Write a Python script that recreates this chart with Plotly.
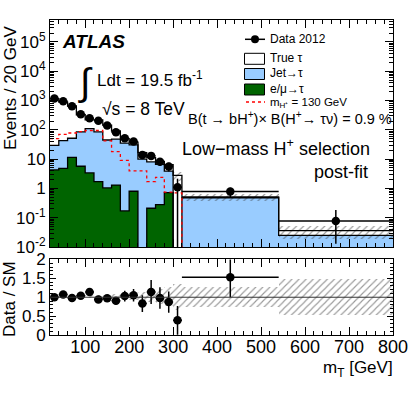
import plotly.graph_objects as go

# binning (GeV)
bin_edges = [20, 40, 60, 80, 100, 120, 140, 160, 180, 200, 220, 240, 260, 280, 300, 320, 540, 800]

# events / 20 GeV
data = [1170, 950, 640, 340, 250, 205, 140, 83, 52, 40, 13.8, 12.9, 8.2, 5.6, 1.1, 0.78, 0.077]
data_err_up = [34, 31, 25, 18, 16, 14, 12, 9, 7.2, 6.3, 3.7, 3.6, 2.4, 1.8, 1.05, 0.27, 0.105]
data_err_dn = [34, 31, 25, 18, 16, 14, 12, 9, 7.2, 6.3, 3.7, 3.6, 2.4, 1.8, 1.09, 0.27, 0.064]
true_tau = [1140, 845, 601, 242, 109, 133, 99, 43, 15.3, 7.2, 6.6, 3.3, 1.7, 2.5, 2.8, 0.03, 0.011]
jet_tau = [25, 38, 40, 79, 107, 83, 44, 47, 35, 30, 10, 7.8, 6.4, 3.2, 0, 0.48, 0.025]
lep_tau = [4.3, 4.8, 11.5, 5.7, 3.4, 1.7, 1.05, 1.3, 0.17, 0.8, 0, 0.21, 0.28, 0.72, 0, 0, 0]
signal = [50, 70, 78, 87, 95, 95, 42, 18, 9, 4.0, 4.0, 1.7, 2.4, 0.75, 0.7, 0, 0]
syst_rel = [0.03, 0.03, 0.03, 0.035, 0.04, 0.05, 0.05, 0.06, 0.07, 0.09, 0.12, 0.15, 0.2, 0.25, 0.35, 0.26, 0.48]

BLUE = "#99ccff"
GREEN = "#006400"
FONT = "Liberation Sans"

centers = [(a + b) / 2 for a, b in zip(bin_edges[:-1], bin_edges[1:])]
widths = [b - a for a, b in zip(bin_edges[:-1], bin_edges[1:])]
green = lep_tau
blue = [l + j for l, j in zip(lep_tau, jet_tau)]
total = [b + t for b, t in zip(blue, true_tau)]


def nz(v):
    return [x if x > 0 else None for x in v]


def step(v):
    # floor zeros below the axis so the outline drops to the bottom
    v = [x if x > 0 else 1e-4 for x in v]
    return v + [v[-1]]


hatch = dict(color="rgba(0,0,0,0)", line_width=0,
             pattern=dict(shape="/", fgcolor="#333", bgcolor="rgba(0,0,0,0)", size=5, solidity=0.22))

fig = go.Figure()

# stack fills
fig.add_trace(go.Bar(x=centers, y=nz(blue), width=widths, marker=dict(color=BLUE, line_width=0),
                     xaxis="x", yaxis="y", showlegend=False))
fig.add_trace(go.Bar(x=centers, y=nz(green), width=widths, marker=dict(color=GREEN, line_width=0),
                     xaxis="x", yaxis="y", showlegend=False))

# outlines
for vals in (total, blue, green):
    fig.add_trace(go.Scatter(x=bin_edges, y=step(vals), mode="lines", line_shape="hv",
                             line=dict(color="black", width=1.3), xaxis="x", yaxis="y",
                             showlegend=False, hoverinfo="skip"))

# uncertainty band (main)
fig.add_trace(go.Bar(x=centers, y=[t * 2 * r for t, r in zip(total, syst_rel)],
                     base=[t * (1 - r) for t, r in zip(total, syst_rel)], width=widths,
                     marker=hatch, xaxis="x", yaxis="y", showlegend=False))

# signal
fig.add_trace(go.Scatter(x=bin_edges, y=step(signal), mode="lines", line_shape="hv",
                         line=dict(color="#ff0000", width=1.3, dash="dot"),
                         xaxis="x", yaxis="y", showlegend=False))

# data
fig.add_trace(go.Scatter(x=centers, y=data, mode="markers",
                         marker=dict(color="black", size=8.5),
                         error_y=dict(type="data", symmetric=False, array=data_err_up,
                                      arrayminus=data_err_dn, color="black", thickness=1.5, width=0),
                         error_x=dict(type="data", array=[w / 2 for w in widths], color="black",
                                      thickness=1.5, width=0),
                         xaxis="x", yaxis="y", showlegend=False))

# ratio panel
ratio = [d / t for d, t in zip(data, total)]
keep = [i for i, r in enumerate(ratio) if r <= 2]
fig.add_trace(go.Bar(x=centers, y=[2 * r for r in syst_rel], base=[1 - r for r in syst_rel], width=widths,
                     marker=hatch, xaxis="x2", yaxis="y2", showlegend=False))
fig.add_trace(go.Scatter(x=[centers[i] for i in keep], y=[ratio[i] for i in keep], mode="markers",
                         marker=dict(color="black", size=8.5),
                         error_y=dict(type="data", symmetric=False,
                                      array=[data_err_up[i] / total[i] for i in keep],
                                      arrayminus=[data_err_dn[i] / total[i] for i in keep],
                                      color="black", thickness=1.5, width=0),
                         error_x=dict(type="data", array=[widths[i] / 2 for i in keep], color="black",
                                      thickness=1.5, width=0),
                         xaxis="x2", yaxis="y2", showlegend=False))

tickfont = dict(family=FONT, size=17, color="black")
axis_common = dict(showline=True, linecolor="black", linewidth=1, mirror="allticks", ticks="inside",
                   tickcolor="black", showgrid=False, zeroline=False, automargin=False)

fig.update_layout(
    width=415, height=399,
    margin=dict(l=50, r=22, t=20, b=64),
    paper_bgcolor="white", plot_bgcolor="white",
    barmode="overlay", bargap=0,
    font=dict(family=FONT, color="black"),
    xaxis=dict(axis_common, domain=[0, 1], range=[20, 800], anchor="y", showticklabels=False,
               tick0=0, dtick=100, ticklen=8,
               minor=dict(ticks="inside", ticklen=4, dtick=20, tick0=0, tickcolor="black")),
    yaxis=dict(axis_common, domain=[0.2794, 1], type="log", range=[-2, 5.75], anchor="x",
               tickvals=[1e-2, 1e-1, 1, 10, 100, 1e3, 1e4, 1e5],
               ticktext=["10<sup>-2</sup>", "10<sup>-1</sup>", "1", "10", "10<sup>2</sup>",
                         "10<sup>3</sup>", "10<sup>4</sup>", "10<sup>5</sup>"],
               ticklen=8, tickfont=tickfont,
               minor=dict(ticks="inside", ticklen=4, dtick="D1", tickcolor="black")),
    xaxis2=dict(axis_common, domain=[0, 1], range=[20, 800], anchor="y2", ticklabeloverflow="allow",
                ticklabelstandoff=-5,
                tick0=0, dtick=100, ticklen=8, tickfont=dict(family=FONT, size=18, color="black"),
                minor=dict(ticks="inside", ticklen=4, dtick=20, tick0=0, tickcolor="black")),
    yaxis2=dict(axis_common, domain=[0, 0.2397], range=[0, 2], anchor="x2",
                tickvals=[0, 0.5, 1, 1.5, 2], ticktext=["0", "0.5", "1", "1.5", "2"],
                ticklen=6, tickfont=tickfont,
                minor=dict(ticks="inside", ticklen=3, dtick=0.1, tickcolor="black")),
)

fig.add_shape(type="line", xref="x2", yref="y2", x0=20, x1=800, y0=1, y1=1,
              line=dict(color="#333", width=1))


def px(x):
    return (x - 50) / 343


def py(y):
    return (335 - y) / 315


def text(s, x, y, size, xanchor="left", angle=0):
    fig.add_annotation(text=s, xref="paper", yref="paper", x=px(x), y=py(y), xanchor=xanchor,
                       yanchor="middle", showarrow=False, textangle=angle,
                       font=dict(family=FONT, size=size, color="black"))


text("Events / 20 GeV", 10, 88, 17, xanchor="center", angle=-90)
text("Data / SM", 9, 299, 17, xanchor="center", angle=-90)
text("m<sub>T</sub> [GeV]", 395, 369, 17, xanchor="right")

text("<b><i>ATLAS</i></b>", 60, 42, 19)
text("∫", 76, 82, 38)
text("Ldt = 19.5 fb<sup>-1</sup>", 95, 79, 17)
text("√s = 8 TeV", 100, 109, 17.5)
text("B(t → bH<sup>+</sup>)× B(H<sup>+</sup>→ τν) = 0.9 %", 394, 118, 14.5, xanchor="right")
text("Low−mass H<sup>+</sup> selection", 180, 147, 18)
text("post-fit", 312, 172, 18)

# legend
leg_font = 12
fig.add_shape(type="line", xref="paper", yref="paper", x0=px(245), x1=px(265), y0=py(39.3), y1=py(39.3),
              line=dict(color="black", width=1.5))
fig.add_shape(type="circle", xref="paper", yref="paper", x0=px(251), x1=px(259), y0=py(43.3), y1=py(35.3),
              fillcolor="black", line=dict(color="black", width=0))
text("Data 2012", 268, 39.3, leg_font)
for y0, col, lab in ((53.3, "white", "True τ"), (68.5, BLUE, "Jet→τ"), (84, GREEN, "e/μ→τ")):
    fig.add_shape(type="rect", xref="paper", yref="paper", x0=px(244.5), x1=px(264.5), y0=py(y0 + 11),
                  y1=py(y0), fillcolor=col, line=dict(color="black", width=1))
    text(lab, 268, y0 + 5, leg_font)
fig.add_shape(type="line", xref="paper", yref="paper", x0=px(246), x1=px(265), y0=py(102), y1=py(102),
              line=dict(color="#ff0000", width=1.3, dash="dot"))
text("m<sub>H⁺</sub> = 130 GeV", 268, 103, 11.5)

# drop the page's default body margin so the figure sits at the window origin
fig.write_html("out.html", config={"displayModeBar": False},
               post_script="document.body.style.margin = '0';")
